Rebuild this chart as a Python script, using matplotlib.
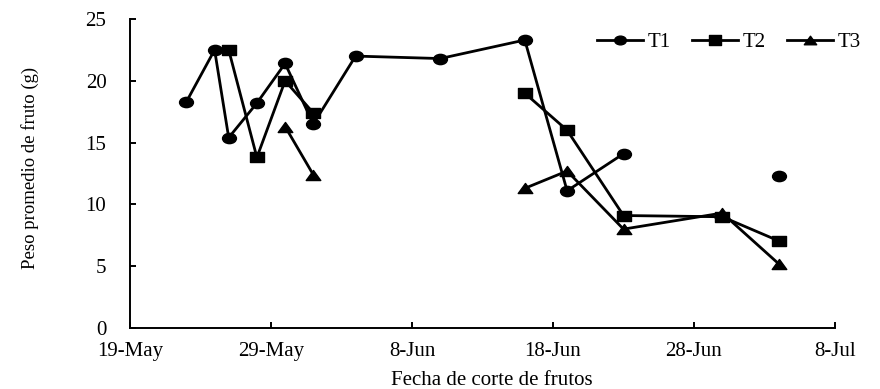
import datetime as dt
import numpy as np
import matplotlib
matplotlib.use("Agg")
import matplotlib.pyplot as plt
import matplotlib.dates as mdates
from matplotlib.path import Path
from matplotlib.transforms import Affine2D
from matplotlib.ticker import FuncFormatter

plt.rcParams["font.family"] = ["Liberation Serif", "DejaVu Serif"]

# Harvest dates (a missing value breaks the line of that treatment)
fechas = ["2015-05-23", "2015-05-25", "2015-05-26", "2015-05-28", "2015-05-30",
          "2015-06-01", "2015-06-04", "2015-06-10", "2015-06-16", "2015-06-19",
          "2015-06-23", "2015-06-30", "2015-07-04"]
nan = np.nan
t1 = [18.3, 22.5, 15.4, 18.2, 21.4, 16.5, 22.0, 21.8, 23.3, 11.1, 14.1, nan, 12.3]
t2 = [nan, nan, 22.5, 13.8, 20.0, 17.4, nan, nan, 19.0, 16.0, 9.1, 9.0, 7.05]
t3 = [nan, nan, nan, nan, 16.3, 12.4, nan, nan, 11.3, 12.7, 8.0, 9.3, 5.2]

x_ticks = ["2015-05-19", "2015-05-29", "2015-06-08", "2015-06-18", "2015-06-28", "2015-07-08"]
y_ticks = [0, 5, 10, 15, 20, 25]
meses = {5: "May", 6: "Jun", 7: "Jul"}

to_num = lambda s: mdates.date2num(dt.datetime.strptime(s, "%Y-%m-%d"))
xd = [to_num(s) for s in fechas]
xt = [to_num(s) for s in x_ticks]

# Slightly wide markers (wider than tall)
m_circ = Path.unit_circle().transformed(Affine2D().scale(1.35, 1.0))
m_sq = Path([(-1, -1), (1, -1), (1, 1), (-1, 1), (-1, -1)],
            [Path.MOVETO, Path.LINETO, Path.LINETO, Path.LINETO, Path.CLOSEPOLY]
            ).transformed(Affine2D().scale(1.3, 1.0))
m_tri = Path([(0, 1), (-1, -1), (1, -1), (0, 1)],
             [Path.MOVETO, Path.LINETO, Path.LINETO, Path.CLOSEPOLY]
             ).transformed(Affine2D().scale(1.45, 1.0))

fig = plt.figure(figsize=(8.8, 3.89), dpi=100)
ax = fig.add_axes([130 / 880, 61 / 389, 705 / 880, 309 / 389])

common = dict(color="black", lw=2.0, clip_on=False)
ax.plot(xd, t1, marker=m_circ, ms=10, label="T1", **common)
ax.plot(xd, t2, marker=m_sq, ms=10, label="T2", **common)
ax.plot(xd, t3, marker=m_tri, ms=10.5, label="T3", **common)

ax.set_xlim(xt[0], xt[-1])
ax.set_ylim(0, 25)
ax.set_xticks(xt)
ax.set_yticks(y_ticks)

def fmt_fecha(v, pos):
    d = mdates.num2date(v)
    return f"{d.day}-{meses[d.month]}"

ax.xaxis.set_major_formatter(FuncFormatter(fmt_fecha))

for side in ("top", "right"):
    ax.spines[side].set_visible(False)
for side in ("left", "bottom"):
    ax.spines[side].set_linewidth(1.4)

ax.tick_params(axis="x", direction="in", length=4, width=1.4, pad=10, labelsize=15)
ax.tick_params(axis="y", direction="in", length=4, width=1.4, pad=17, labelsize=15)

fig.text(30 / 880, 1 - 168 / 389, "Peso promedio de fruto (g)", rotation=90,
         ha="center", va="center", fontsize=13.5)
fig.text(492 / 880, 1 - 385 / 389, "Fecha de corte de frutos",
         ha="center", va="baseline", fontsize=15)

ax.legend(loc="center left", bbox_to_anchor=(597 / 880, 1 - 42 / 389),
          bbox_transform=fig.transFigure, ncol=3, frameon=False, fontsize=15,
          borderpad=0, borderaxespad=0, markerscale=0.85,
          handlelength=2.2, handletextpad=0.25, columnspacing=1.0)

fig.savefig("out.png", dpi=100)
